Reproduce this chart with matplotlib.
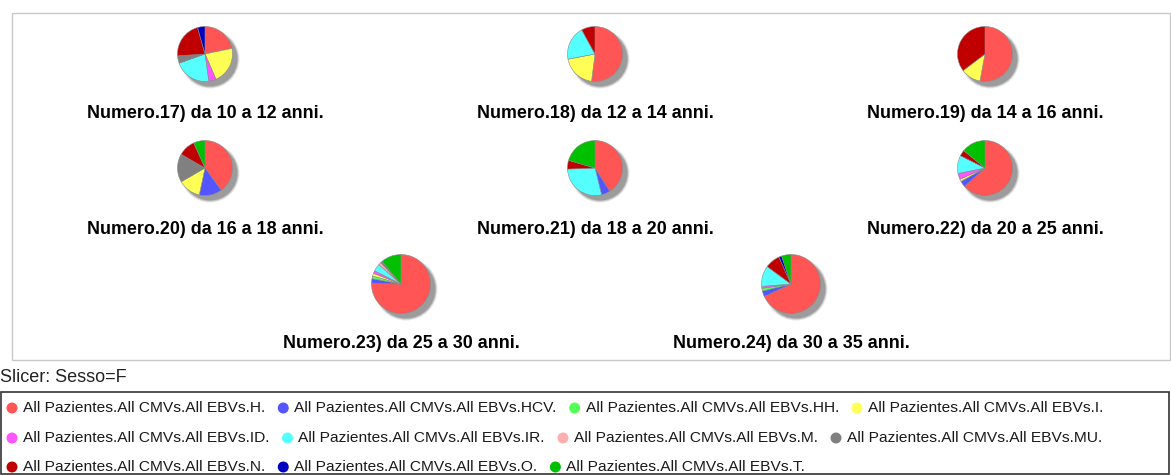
import matplotlib
matplotlib.use("Agg")
import matplotlib.pyplot as plt
from matplotlib.patches import Circle, Rectangle

# Series (slice categories) and their colours
series = ["H", "HCV", "HH", "I", "ID", "IR", "M", "MU", "N", "O", "T"]
colors = ["#FF5555", "#5555FF", "#55FF55", "#FFFF55", "#FF55FF", "#55FFFF",
          "#FFAFAF", "#808080", "#C00000", "#0000C0", "#00C000"]

# Pie titles
titles = ["Numero.17) da 10 a 12 anni.", "Numero.18) da 12 a 14 anni.",
          "Numero.19) da 14 a 16 anni.", "Numero.20) da 16 a 18 anni.",
          "Numero.21) da 18 a 20 anni.", "Numero.22) da 20 a 25 anni.",
          "Numero.23) da 25 a 30 anni.", "Numero.24) da 30 a 35 anni."]

# Values per age band, ordered as in `series`
p17 = [5, 0, 0, 5, 1, 5, 0, 1, 5, 1, 0]
p18 = [13, 0, 0, 5, 0, 5, 0, 0, 2, 0, 0]
p19 = [9, 0, 0, 2, 0, 0, 0, 0, 6, 0, 0]
p20 = [6, 2, 0, 2, 0, 0, 0, 2.5, 1.5, 0, 1]
p21 = [8, 1, 0, 0, 0, 5.5, 0, 0, 1, 0, 4]
p22 = [18, 1, 0, 0.4, 1, 3, 0, 0, 1, 0, 4]
p23 = [75, 2.5, 1.5, 1.5, 1.5, 4, 1.5, 1, 0, 0, 11]
p24 = [66, 3, 1.5, 0, 1, 11, 0, 0, 8, 1.5, 5]
pies = [p17, p18, p19, p20, p21, p22, p23, p24]

slicer_text = "Slicer: Sesso=F"
legend_prefix = "All Pazientes.All CMVs.All EBVs."
legend_rows = [["H", "HCV", "HH", "I"], ["ID", "IR", "M", "MU"], ["N", "O", "T"]]

W, H = 1171, 475
fig = plt.figure(figsize=(W / 100, H / 100), dpi=100)
ax = fig.add_axes([0, 0, 1, 1])

FONT = "Liberation Sans"

def Y(y):
    return H - y

# layout of the pie grid (pixel coordinates, top-left origin)
centers = [(205, 54), (595, 54), (985, 54),
           (205, 168), (595, 168), (985, 168),
           (401, 284), (791, 284)]
radii = [27.5] * 6 + [29.5, 29.5]
title_y = [114, 114, 114, 229, 229, 229, 343, 343]

# plot area frame
ax.add_patch(Rectangle((12, Y(360)), 1158, 347, fill=False,
                       edgecolor="#C8C8C8", linewidth=1.0, zorder=1))

for vals, (cx, cy), r, ty, title in zip(pies, centers, radii, title_y, titles):
    v = [x for x in vals if x > 0]
    c = [col for x, col in zip(vals, colors) if x > 0]
    # soft drop shadow
    for k, a in [(2.0, 0.25), (1.0, 0.45), (0.0, 1.0)]:
        ax.add_patch(Circle((cx + 5, Y(cy) - 5), r + k, facecolor="#9C9C9C",
                            edgecolor="none", alpha=a, zorder=2))
    ax.pie(v, colors=c, startangle=90, counterclock=False,
           center=(cx, Y(cy)), radius=r,
           wedgeprops=dict(edgecolor="#8A8A8A", linewidth=0.4, zorder=3))
    ax.text(cx, Y(ty), title, ha="center", va="center", fontsize=12.9,
            fontweight="bold", family=FONT, color="black", zorder=4)

# slicer caption
ax.text(0, Y(378), slicer_text, ha="left", va="center", fontsize=13.0,
        family=FONT, color="#222222")

# legend box
ax.add_patch(Rectangle((1, Y(474)), 1168, 82, fill=False,
                       edgecolor="#333333", linewidth=1.2, zorder=1))

ax.set_xlim(0, W)
ax.set_ylim(0, H)
ax.set_aspect("auto")
ax.axis("off")

fig.canvas.draw()
renderer = fig.canvas.get_renderer()
inv = ax.transData.inverted()

row_y = [408, 438, 467]
for row, ry in zip(legend_rows, row_y):
    x = 12
    for s in row:
        col = colors[series.index(s)]
        ax.add_patch(Circle((x, Y(ry)), 5.5, facecolor=col, edgecolor="none", zorder=4))
        t = ax.text(x + 11, Y(ry), legend_prefix + s + ".", ha="left", va="center",
                    fontsize=11.15, family=FONT, color="#1A1A1A", zorder=4)
        bb = t.get_window_extent(renderer=renderer)
        x_end = inv.transform((bb.x1, bb.y0))[0]
        x = x_end + 18

fig.savefig("out.png", dpi=100)
